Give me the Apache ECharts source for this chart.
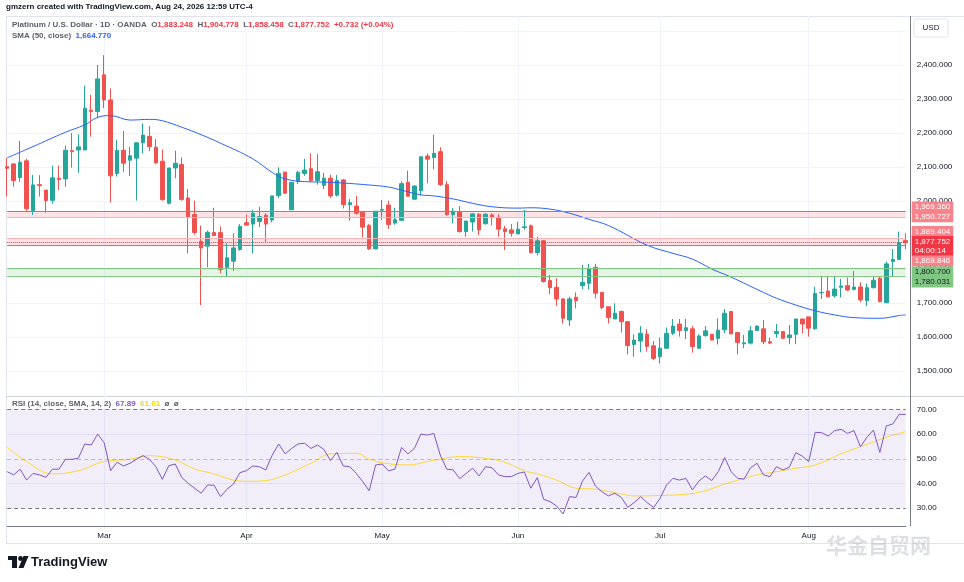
<!DOCTYPE html>
<html><head><meta charset="utf-8">
<script src="https://cdn.jsdelivr.net/npm/echarts@6/dist/echarts.min.js"></script>
<style>html,body{margin:0;padding:0;background:#fff}#c{width:964px;height:582px}</style>
</head><body><div id="c"></div>
<script>
// ---- daily OHLC, first bar 2026-02-09 ----
const opens = [2101,2109,2069,2118,1972,2048,2032,2002,2067,2065,2148,2150,2150,2267,2263,2371,2297,2081,2149,2120,
2126,2171,2190,2158,2117,1993,2097,2107,2009,1960,1881,1867,1907,1907,1805,1823,1857,1936,1932,1940,
1958,1944,2016,2085,1974,2057,2081,2095,2060,2046,2067,2017,2062,1989,1985,1967,1928,1859,1973,1988,
1935,1943,2055,2005,2030,2132,2128,2145,2048,1960,1969,1910,1938,1961,1933,1959,1952,1918,1915,1903,
1922,1927,1848,1883,1766,1746,1712,1650,1717,1751,1758,1805,1731,1689,1653,1675,1645,1578,1588,1608,
1574,1542,1567,1611,1638,1619,1624,1567,1604,1608,1596,1621,1675,1613,1580,1582,1619,1624,1586,1610,
1616,1598,1608,1653,1659,1624,1730,1735,1721,1746,1751,1740,1747,1707,1745,1773,1701,1822,1828,1883.248];
const highs = [2126,2111,2177,2124,2077,2076,2032,2104,2104,2163,2200,2196,2339,2312,2400,2429,2331,2180,2206,2159,
2171,2228,2221,2182,2151,2097,2148,2128,2035,2001,1928,1913,1980,1925,1876,1905,1932,1960,1974,1983,
1964,2015,2099,2085,2055,2089,2124,2140,2138,2083,2077,2077,2065,2006,2015,1967,1932,1970,2003,2001,
1980,2058,2089,2046,2130,2140,2195,2158,2058,1979,1985,1941,1964,1964,1964,1964,1961,1927,1932,1939,
1974,1931,1895,1885,1782,1773,1714,1719,1731,1812,1815,1815,1733,1689,1699,1678,1647,1608,1632,1623,
1588,1598,1628,1653,1653,1653,1632,1608,1632,1608,1655,1682,1675,1613,1606,1632,1634,1650,1598,1638,
1616,1635,1653,1653,1659,1748,1780,1780,1780,1771,1775,1794,1761,1758,1779,1777,1822,1859,1910,1904.778];
const lows = [2013,2042,2057,1971,1959,2013,1966,1992,2032,2042,2098,2083,2150,2189,2243,2273,1996,2072,2086,2074,
2001,2140,2147,2109,2001,1990,2067,2001,1846,1901,1694,1805,1898,1787,1779,1795,1854,1928,1846,1923,
1879,1937,2009,2021,1974,2050,2074,2056,2048,2035,2009,2013,1978,1942,1960,1893,1856,1859,1944,1918,
1930,1943,2013,2005,2016,2052,2093,2044,1956,1934,1907,1895,1910,1900,1931,1928,1895,1856,1895,1903,
1915,1846,1840,1760,1726,1691,1640,1632,1684,1740,1740,1713,1681,1640,1653,1613,1549,1542,1555,1557,
1532,1522,1565,1606,1601,1594,1554,1565,1601,1591,1578,1611,1609,1549,1567,1578,1617,1579,1579,1598,
1594,1579,1579,1611,1601,1621,1712,1717,1716,1716,1735,1737,1702,1691,1743,1702,1699,1779,1826,1858.458];
const closes = [2096,2060,2114,1977,2047,2045,2001,2068,2063,2149,2145,2159,2273,2263,2359,2297,2074,2149,2111,2133,
2171,2194,2160,2112,2004,2097,2111,2004,1952,1907,1862,1908,1898,1798,1833,1862,1925,1929,1964,1954,
1932,2015,2081,2023,2055,2084,2091,2060,2086,2067,2015,2060,1989,1995,1964,1923,1859,1970,1975,1931,
1945,2051,2014,2044,2130,2123,2140,2048,1960,1970,1910,1941,1962,1915,1961,1951,1917,1910,1905,1917,
1924,1848,1883,1763,1745,1712,1655,1712,1707,1761,1800,1729,1687,1657,1670,1645,1575,1591,1611,1572,
1537,1567,1611,1632,1619,1627,1572,1603,1618,1591,1620,1670,1609,1584,1583,1618,1632,1586,1582,1616,
1596,1606,1653,1638,1626,1728,1731,1718,1741,1750,1738,1747,1709,1745,1767,1704,1815,1828,1877,1877.752];
// SMA(50) read at [barIndex, value]
const smaPoints = [[0,2127],[4,2160],[9,2202],[12,2224],[14,2246],[16,2251],[19,2238],[22,2240],[24,2236],[27,2217],
[30,2195],[33,2170],[38,2124],[41,2084],[43,2065],[46,2057],[50,2055],[56,2047],[59,2041],[61,2032],[64,2018],[66,2015],
[69,2006],[72,1993],[75,1983],[79,1979],[81,1980],[84,1976],[87,1964],[90,1946],[93,1928],[99,1870],[103,1846],[106,1829],
[109,1800],[112,1776],[117,1731],[119,1714],[122,1694],[125,1677],[128,1665],[131,1657],[135,1655],[138,1663],[139,1664.77]];
// RSI(14) per bar
const rsiValues = [44.8,43.5,45.8,41.4,44.1,43.5,42.5,45.8,45.8,49.8,
49.8,50.2,56.0,55.6,60.0,56.5,45.2,48.6,47.1,48.2,
49.8,51.3,49.8,46.8,41.7,47.2,47.9,42.5,40.1,38.1,
36.1,39.4,39.3,34.7,37.7,39.8,44.4,45.2,47.1,46.8,
45.5,51.5,56.0,52.0,54.2,56.0,56.3,54.2,55.6,53.8,
49.3,52.6,47.1,46.8,44.1,40.8,37.1,47.5,47.9,45.1,
45.9,54.6,52.0,54.2,60.0,59.6,60.3,51.5,45.8,45.5,
42.0,44.1,46.2,43.1,46.8,46.4,43.5,42.8,42.8,44.1,
44.7,38.1,42.4,33.6,32.7,30.9,27.7,34.7,34.4,41.0,
44.5,39.0,36.7,35.0,36.1,34.4,30.4,32.3,34.7,32.3,
30.3,34.0,39.4,42.1,41.4,42.1,37.4,41.0,43.1,41.2,
44.8,50.5,44.8,42.1,41.8,46.4,48.2,43.5,42.8,46.8,
45.5,46.6,52.5,51.1,48.9,60.7,60.6,59.2,61.4,61.9,
60.3,61.4,54.9,58.7,61.6,52.6,63.3,64.1,68.0,67.89];
// RSI SMA(14) read at [barIndex, value]
const rsiSmaPoints = [[0,54.6],[3,48.9],[7,43.9],[11,45.2],[15,48.9],[19,49.8],[22,51.3],[26,49.5],[29,45.9],[32,43.9],
[35,41.4],[37,40.9],[40,41.2],[43,43.5],[47,48.2],[50,52.0],[54,52.2],[56,49.9],[58,48.4],[62,47.5],[65,48.9],[67,49.9],
[70,50.9],[74,50.2],[77,48.6],[80,45.2],[82,43.9],[85,41.4],[88,38.1],[91,37.7],[95,35.8],[97,35.0],[100,35.1],[105,35.7],
[108,37.1],[111,39.8],[114,42.1],[116,43.5],[119,44.8],[122,46.2],[125,47.5],[129,52.0],[132,54.9],[136,58.7],[139,61.01]];
// price levels
const redZoneHigh = [1950.727, 1969.360];
const redZoneLow = [1869.846, 1889.404];
const greenZone = [1780.031, 1800.700];
const lastPrice = [1877.752];
const rsiBands = [30, 40, 50, 60, 70];
const monthNames = ['Jan','Feb','Mar','Apr','May','Jun','Jul','Aug','Sep','Oct','Nov','Dec'];
const holidays = ['2026-04-03'];

const dates = [];
{
  const d = new Date(Date.UTC(2026, 1, 9));
  while (dates.length < opens.length) {
    const wd = d.getUTCDay(), iso = d.toISOString().slice(0, 10);
    if (wd !== 0 && wd !== 6 && holidays.indexOf(iso) < 0) dates.push(iso);
    d.setUTCDate(d.getUTCDate() + 1);
  }
}
const isMonthStart = (i) => i > 0 && dates[i].slice(5, 7) !== dates[i - 1].slice(5, 7);
const fmt = (v) => Number(v).toLocaleString('en-US', {minimumFractionDigits: 3, maximumFractionDigits: 3});
const candles = opens.map((o, i) => [o, closes[i], lows[i], highs[i]]);

const FONT = "'Liberation Sans', Arial, sans-serif";
const UP = '#26a69a', DOWN = '#ef5350';
const GRID_L = 7.2, GRID_R = 58.3;

function lvl(v, color, type, bg, txt, dy, extra) {
  return {
    yAxis: v,
    lineStyle: {color: color, type: type, width: 1},
    label: {show: true, position: 'end', distance: 6, formatter: () => fmt(v) + (extra || ''),
      backgroundColor: bg, color: txt, fontSize: 8, fontFamily: FONT, padding: [1, 3, 1, 3], lineHeight: 9, offset: [0, dy]}
  };
}

const chart = echarts.init(document.getElementById('c'), null, {renderer: 'canvas'});
chart.setOption({
  animation: false,
  backgroundColor: '#ffffff',
  textStyle: {fontFamily: FONT},
  title: [
    {left: 6, top: 3, padding: 0, text: 'gmzern created with TradingView.com, Aug 24, 2026 12:59 UTC-4',
      textStyle: {fontSize: 8, fontWeight: 'bold', color: '#131722', fontFamily: FONT}},
    {left: 12, top: 21, padding: 0,
      text: '{g|Platinum / U.S. Dollar · 1D · OANDA  O}{r|1,883.248}{g|  H}{r|1,904.778}{g|  L}{r|1,858.458}{g|  C}{r|1,877.752}{r|  +0.732 (+0.04%)}',
      textStyle: {rich: {g: {fontSize: 8, color: '#5d606b', fontFamily: FONT}, r: {fontSize: 8, color: '#f23645', fontFamily: FONT}}}},
    {left: 12, top: 32, padding: 0, text: '{g|SMA (50, close)}{b|  1,664.770}',
      textStyle: {rich: {g: {fontSize: 8, color: '#5d606b', fontFamily: FONT}, b: {fontSize: 8, color: '#2962ff', fontFamily: FONT}}}},
    {left: 12, top: 400, padding: 0, text: '{g|RSI (14, close, SMA, 14, 2)}{p|  67.89}{y|  61.01}{g|  ø  ø}',
      textStyle: {rich: {g: {fontSize: 8, color: '#5d606b', fontFamily: FONT}, p: {fontSize: 8, color: '#7e57c2', fontFamily: FONT}, y: {fontSize: 8, color: '#f5d80a', fontFamily: FONT}}}}
  ],
  grid: [
    {left: GRID_L, right: GRID_R, top: 16, height: 389},
    {left: GRID_L, right: GRID_R, top: 397, height: 136}
  ],
  xAxis: [
    {gridIndex: 0, type: 'category', data: dates, boundaryGap: false,
      axisLine: {show: false}, axisTick: {show: false}, axisLabel: {show: false},
      splitLine: {show: true, interval: (i) => isMonthStart(i), lineStyle: {color: '#f0f3fa', width: 1}}},
    {gridIndex: 1, type: 'category', data: dates, boundaryGap: false, offset: -7,
      axisLine: {show: true, lineStyle: {color: '#787b86', width: 1}}, axisTick: {show: false},
      axisLabel: {show: true, interval: (i) => isMonthStart(i), formatter: (v) => monthNames[parseInt(v.slice(5, 7), 10) - 1],
        color: '#131722', fontSize: 8, fontFamily: FONT, margin: 6},
      splitLine: {show: true, interval: (i) => isMonthStart(i), lineStyle: {color: '#f0f3fa', width: 1}}}
  ],
  yAxis: [
    {gridIndex: 0, type: 'value', position: 'right', min: 1400, max: 2544, interval: 100, scale: true,
      axisLine: {show: false}, axisTick: {show: false},
      axisLabel: {show: true, showMinLabel: false, showMaxLabel: false, formatter: (v) => (v >= 2500 ? '' : fmt(v)), color: '#131722', fontSize: 8, fontFamily: FONT, margin: 11},
      splitLine: {show: true, showMinLine: false, showMaxLine: false, lineStyle: {color: '#f0f3fa', width: 1}}},
    {gridIndex: 1, type: 'value', position: 'right', min: 20, max: 75, interval: 10,
      axisLine: {show: false}, axisTick: {show: false},
      axisLabel: {show: true, showMinLabel: false, showMaxLabel: false, formatter: (v) => v.toFixed(2), color: '#131722', fontSize: 8, fontFamily: FONT, margin: 11},
      splitLine: {show: false}}
  ],
  series: [
    {type: 'candlestick', xAxisIndex: 0, yAxisIndex: 0, data: candles, barWidth: 4, clip: false,
      itemStyle: {color: UP, color0: DOWN, borderColor: UP, borderColor0: DOWN, borderWidth: 1},
      markArea: {silent: true, data: [
        [{yAxis: redZoneHigh[0], itemStyle: {color: 'rgba(242,54,69,0.14)'}}, {yAxis: redZoneHigh[1]}],
        [{yAxis: redZoneLow[0], itemStyle: {color: 'rgba(242,54,69,0.14)'}}, {yAxis: redZoneLow[1]}],
        [{yAxis: greenZone[0], itemStyle: {color: 'rgba(76,175,80,0.14)'}}, {yAxis: greenZone[1]}]
      ]},
      markLine: {silent: true, symbol: 'none', data: [
        lvl(redZoneHigh[1], '#f0606b', 'solid', '#f7848c', '#ffffff', -4.4),
        lvl(redZoneHigh[0], '#f9b3b8', 'solid', '#f7848c', '#ffffff', -1),
        lvl(redZoneLow[1], '#f9b3b8', 'solid', '#f7848c', '#ffffff', -7),
        lvl(lastPrice[0], '#f23645', 'dotted', '#f23645', '#ffffff', 3.4, '\n04:00:14'),
        lvl(redZoneLow[0], '#f0606b', 'solid', '#f7848c', '#ffffff', 15.7),
        lvl(greenZone[1], '#81c784', 'solid', '#81c784', '#131722', 3.2),
        lvl(greenZone[0], '#81c784', 'solid', '#81c784', '#131722', 6.2)
      ]}
    },
    {type: 'line', name: 'SMA', xAxisIndex: 0, yAxisIndex: 0, data: smaPoints, showSymbol: false, smooth: 0.4,
      lineStyle: {color: '#2962ff', width: 1}, z: 3},
    {type: 'line', name: 'RSI', xAxisIndex: 1, yAxisIndex: 1, data: rsiValues, showSymbol: false,
      lineStyle: {color: '#7e57c2', width: 1}, z: 4,
      markArea: {silent: true, data: [[{yAxis: rsiBands[0], itemStyle: {color: 'rgba(126,87,194,0.1)'}}, {yAxis: rsiBands[4]}]]},
      markLine: {silent: true, symbol: 'none', label: {show: false}, data: [
        {yAxis: rsiBands[4], lineStyle: {color: '#787b86', type: [4, 3], width: 1}},
        {yAxis: rsiBands[3], lineStyle: {color: 'rgba(126,87,194,0.12)', type: 'solid', width: 1}},
        {yAxis: rsiBands[2], lineStyle: {color: 'rgba(120,123,134,0.45)', type: [4, 3], width: 1}},
        {yAxis: rsiBands[1], lineStyle: {color: 'rgba(126,87,194,0.12)', type: 'solid', width: 1}},
        {yAxis: rsiBands[0], lineStyle: {color: '#787b86', type: [4, 3], width: 1}}
      ]}
    },
    {type: 'line', name: 'RSI SMA', xAxisIndex: 1, yAxisIndex: 1, data: rsiSmaPoints, showSymbol: false, smooth: 0.4,
      lineStyle: {color: '#fdd835', width: 1}, z: 3}
  ],
  graphic: [
    {type: 'line', shape: {x1: 6, y1: 16.5, x2: 964, y2: 16.5}, style: {stroke: '#e0e3eb', lineWidth: 1}, silent: true},
    {type: 'line', shape: {x1: 6.5, y1: 16, x2: 6.5, y2: 543}, style: {stroke: '#e0e3eb', lineWidth: 1}, silent: true},
    {type: 'line', shape: {x1: 6, y1: 396.5, x2: 964, y2: 396.5}, style: {stroke: '#d1d4dc', lineWidth: 1}, silent: true},
    {type: 'line', shape: {x1: 6, y1: 543.5, x2: 964, y2: 543.5}, style: {stroke: '#e0e3eb', lineWidth: 1}, silent: true},
    {type: 'line', shape: {x1: 910.5, y1: 16, x2: 910.5, y2: 526}, style: {stroke: '#787b86', lineWidth: 1}, silent: true, z: 10},
    {type: 'rect', shape: {x: 914, y: 19, width: 34, height: 18, r: 2}, style: {fill: '#ffffff', stroke: '#e0e3eb', lineWidth: 1}, z: 10},
    {type: 'text', x: 931, y: 28, style: {text: 'USD', fill: '#131722', fontSize: 8, fontFamily: FONT, align: 'center', verticalAlign: 'middle'}, z: 11},
    // TradingView logo
    {type: 'rect', shape: {x: 8, y: 556, width: 9, height: 4}, style: {fill: '#131722'}},
    {type: 'rect', shape: {x: 12, y: 556, width: 5, height: 12}, style: {fill: '#131722'}},
    {type: 'circle', shape: {cx: 20.5, cy: 558.5, r: 2.4}, style: {fill: '#131722'}},
    {type: 'polygon', shape: {points: [[23.5, 556], [28.5, 556], [23.5, 568], [18.5, 568]]}, style: {fill: '#131722'}},
    {type: 'text', x: 31, y: 562, style: {text: 'TradingView', fill: '#131722', fontSize: 13, fontWeight: 'bold', fontFamily: FONT, verticalAlign: 'middle'}},
    // watermark
    {type: 'text', x: 826, y: 545, style: {text: '华金自贸网', fill: 'rgba(160,164,176,0.35)', stroke: 'rgba(255,255,255,0.6)', lineWidth: 1, fontSize: 21, fontWeight: 'bold', fontFamily: "'Noto Sans CJK SC', sans-serif", verticalAlign: 'middle'}, z: 20}
  ]
});
</script></body></html>
